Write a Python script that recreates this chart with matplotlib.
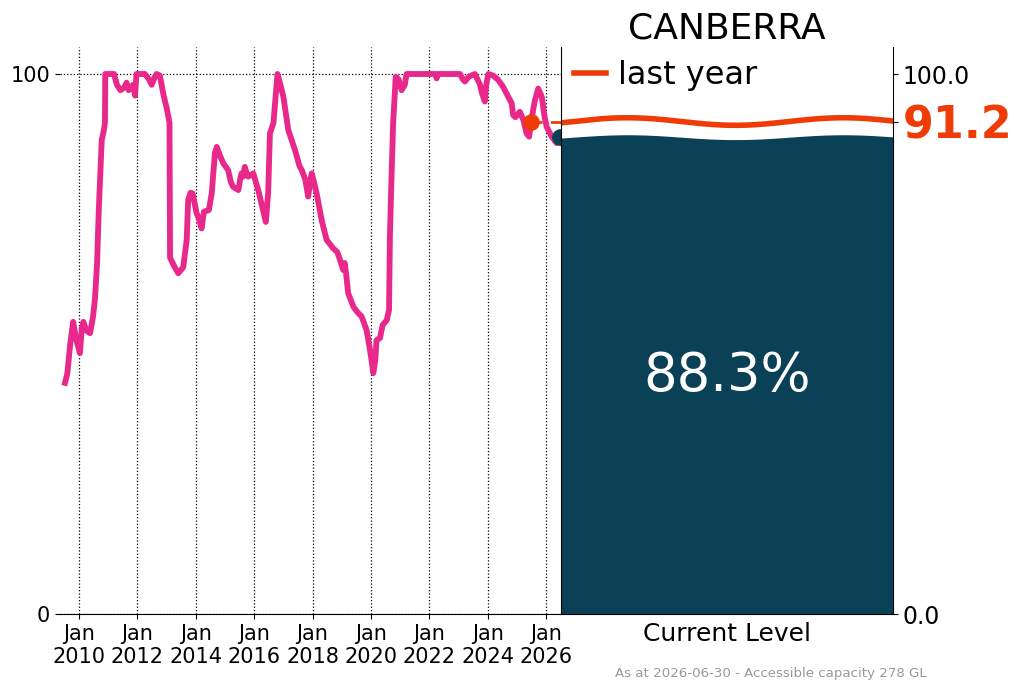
import numpy as np
import matplotlib
matplotlib.use("Agg")
import matplotlib.pyplot as plt

# storage level (% of accessible capacity), decimal year
years = [2009.52, 2009.60, 2009.70, 2009.80, 2009.90, 2010.03, 2010.10, 2010.15, 2010.25, 2010.38,
         2010.48, 2010.55, 2010.62, 2010.68, 2010.72, 2010.78, 2010.85, 2010.89, 2010.90, 2011.20,
         2011.30, 2011.42, 2011.55, 2011.63, 2011.70, 2011.75, 2011.85, 2011.92, 2011.97, 2012.26,
         2012.40, 2012.49, 2012.60, 2012.66, 2012.77, 2012.90, 2013.00, 2013.10, 2013.12, 2013.25,
         2013.40, 2013.57, 2013.69, 2013.74, 2013.82, 2013.89, 2014.00, 2014.03, 2014.12, 2014.20,
         2014.28, 2014.45, 2014.55, 2014.60, 2014.66, 2014.72, 2014.82, 2014.94, 2015.11, 2015.20,
         2015.28, 2015.46, 2015.52, 2015.57, 2015.62, 2015.68, 2015.75, 2015.80, 2015.97, 2016.14,
         2016.25, 2016.40, 2016.48, 2016.54, 2016.66, 2016.80, 2016.90, 2017.00, 2017.17, 2017.40,
         2017.55, 2017.63, 2017.75, 2017.85, 2017.92, 2017.97, 2018.05, 2018.14, 2018.31, 2018.48,
         2018.71, 2018.85, 2018.94, 2019.05, 2019.10, 2019.15, 2019.22, 2019.40, 2019.55, 2019.68,
         2019.85, 2019.95, 2020.02, 2020.08, 2020.15, 2020.19, 2020.31, 2020.40, 2020.54, 2020.62,
         2020.65, 2020.70, 2020.76, 2020.85, 2020.95, 2021.05, 2021.16, 2021.22, 2022.20, 2022.25,
         2022.30, 2023.05, 2023.15, 2023.22, 2023.35, 2023.56, 2023.65, 2023.73, 2023.80, 2023.90,
         2023.95, 2024.02, 2024.19, 2024.36, 2024.53, 2024.70, 2024.82, 2024.87, 2024.95, 2025.10,
         2025.22, 2025.33, 2025.42, 2025.49, 2025.56, 2025.62, 2025.73, 2025.85, 2025.95, 2026.02,
         2026.19, 2026.36, 2026.49]
level = [42.8, 44.5, 50.0, 54.1, 51.0, 48.3, 53.0, 54.1, 52.5, 52.0,
         55.0, 58.5, 65.0, 75.0, 80.0, 87.8, 89.5, 91.0, 100.0, 100.0,
         98.0, 97.0, 97.5, 98.4, 97.0, 97.3, 98.0, 96.0, 100.0, 100.0,
         99.0, 98.0, 99.5, 100.0, 99.7, 96.0, 93.8, 91.0, 66.0, 64.5,
         63.1, 64.2, 69.3, 76.7, 78.0, 77.9, 75.0, 74.2, 73.0, 71.4,
         74.5, 74.8, 78.0, 81.6, 85.5, 86.5, 85.0, 83.5, 82.2, 80.0,
         79.1, 78.5, 80.5, 81.6, 81.0, 82.8, 81.5, 81.0, 81.6, 78.5,
         76.0, 72.6, 78.0, 89.0, 90.9, 100.0, 98.0, 95.8, 89.6, 85.9,
         83.0, 82.2, 80.5, 77.3, 80.0, 81.6, 80.0, 77.9, 73.0, 69.3,
         67.7, 67.0, 65.6, 63.7, 65.0, 63.0, 59.4, 56.9, 55.8, 55.1,
         52.6, 49.5, 47.0, 44.6, 47.0, 50.7, 51.1, 53.5, 54.4, 56.3,
         70.0, 80.0, 90.9, 99.5, 99.0, 97.0, 98.0, 100.0, 100.0, 99.2,
         100.0, 100.0, 99.0, 98.6, 99.5, 100.0, 99.0, 98.1, 96.5, 94.9,
         98.0, 100.0, 99.7, 98.9, 97.6, 95.8, 94.6, 92.4, 92.0, 93.0,
         91.5, 89.0, 88.4, 91.2, 93.5, 95.2, 97.3, 95.8, 92.0, 90.2,
         88.4, 87.2, 88.3]

current = 88.3
last_year = 91.2
last_year_date = 2025.49
tick_years = list(range(2010, 2027, 2))
title = "CANBERRA"
footnote = "As at 2026-06-30 - Accessible capacity 278 GL"

pink = "#e8288a"
red = "#ef3b06"
navy = "#0b4157"

fig = plt.figure(figsize=(10.24, 6.91), dpi=100)
ax = fig.add_axes([60/1024, 77/691, 501/1024, 567/691])
ax2 = fig.add_axes([561/1024, 77/691, 332/1024, 567/691])

# history
ax.plot(years, level, color=pink, lw=4.2, solid_joinstyle="round", zorder=3)
ax.plot([last_year_date, 2026.6], [last_year, last_year], color=red, lw=2, ls=(0, (4, 3)), zorder=2)
ax.plot([last_year_date], [last_year], "o", color=red, ms=11, zorder=4)
ax.plot([years[-1]], [level[-1]], "o", color=navy, ms=11, zorder=4)
ax.set_xlim(2009.35, 2026.51)
ax.set_ylim(0, 105)
ax.set_yticks([0, 100])
ax.set_yticklabels(["0", "100"], fontsize=15)
ax.set_xticks(tick_years)
ax.set_xticklabels(["Jan\n%d" % y for y in tick_years], fontsize=15)
ax.grid(True, ls=":", color="black", lw=0.9)
for s in ["left", "top", "right"]:
    ax.spines[s].set_visible(False)

# current level panel
xs = np.linspace(0, 1, 300)
wave = np.cos(2 * np.pi * (xs - 0.2) / 0.65)
ax2.fill_between(xs, 0, current + 0.45 * wave, color=navy, lw=0)
ax2.plot(xs, last_year + 0.7 * wave, color=red, lw=4, label="last year")
ax2.text(0.5, current / 2, "%.1f%%" % current, color="white", fontsize=38,
         ha="center", va="center")
ax2.set_xlim(0, 1)
ax2.set_ylim(0, 105)
ax2.set_xticks([])
ax2.set_xlabel("Current Level", fontsize=18, labelpad=6)
ax2.yaxis.tick_right()
ax2.set_yticks([0, 100, last_year])
ax2.set_yticklabels(["0.0", "100.0", "%.1f" % last_year], fontsize=17)
lab = ax2.get_yticklabels()[2]
lab.set_color(red)
lab.set_fontweight("bold")
lab.set_fontsize(32)
ax2.spines["top"].set_visible(False)
ax2.set_title(title, fontsize=26, pad=6)
ax2.legend(loc="upper left", frameon=False, fontsize=23, handlelength=1.0,
           handletextpad=0.4, borderaxespad=0.0, borderpad=0.4)

fig.text(615/1024, 1 - 673/691, footnote, fontsize=9.6, color="#999999", va="center")

fig.savefig("out.png", dpi=100)
